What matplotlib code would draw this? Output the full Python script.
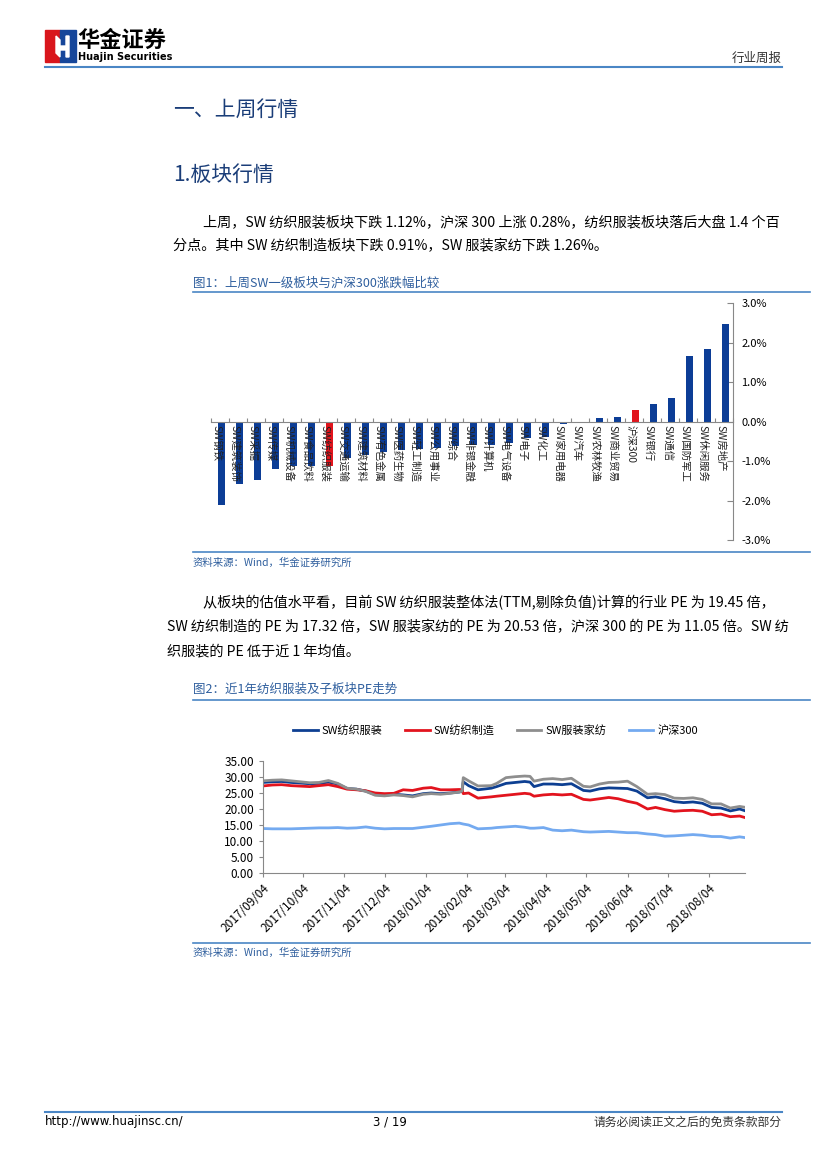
import numpy as np
import pandas as pd
import matplotlib
matplotlib.use("Agg")
import matplotlib.pyplot as plt
import matplotlib.dates as mdates
from matplotlib.patches import Rectangle, Polygon
from matplotlib.lines import Line2D

plt.rcParams['font.family'] = ['Noto Sans CJK SC', 'DejaVu Sans']
plt.rcParams['axes.unicode_minus'] = False

# ---- 图1 数据：上周SW一级板块与沪深300涨跌幅(%) ----
sectors = ['SW钢铁', 'SW建筑装饰', 'SW采掘', 'SW传媒', 'SW机械设备', 'SW食品饮料',
           'SW纺织服装', 'SW交通运输', 'SW建筑材料', 'SW有色金属', 'SW医药生物',
           'SW轻工制造', 'SW公用事业', 'SW综合', 'SW非银金融', 'SW计算机',
           'SW电气设备', 'SW电子', 'SW化工', 'SW家用电器', 'SW汽车', 'SW农林牧渔',
           'SW商业贸易', '沪深300', 'SW银行', 'SW通信', 'SW国防军工', 'SW休闲服务',
           'SW房地产']
changes = [-2.12, -1.58, -1.49, -1.19, -1.13, -1.12, -1.12, -0.93, -0.85, -0.77,
           -0.72, -0.70, -0.68, -0.62, -0.60, -0.60, -0.55, -0.42, -0.38, -0.07,
           -0.02, 0.08, 0.12, 0.28, 0.45, 0.59, 1.65, 1.84, 2.47]
highlight = ['SW纺织服装', '沪深300']
bar_ticks = [3, 2, 1, 0, -1, -2, -3]

# ---- 图2 数据：近1年纺织服装及子板块PE ----
pe_dates = ['2017-09-04', '2017-09-11', '2017-09-18', '2017-09-25', '2017-10-09',
            '2017-10-16', '2017-10-23', '2017-10-30', '2017-11-06', '2017-11-13',
            '2017-11-20', '2017-11-27', '2017-12-04', '2017-12-11', '2017-12-18',
            '2017-12-25', '2018-01-02', '2018-01-08', '2018-01-15', '2018-01-22',
            '2018-01-29', '2018-01-31', '2018-02-01', '2018-02-05', '2018-02-12',
            '2018-02-22', '2018-02-26', '2018-03-05', '2018-03-12', '2018-03-19',
            '2018-03-23', '2018-03-26', '2018-04-02', '2018-04-09', '2018-04-16',
            '2018-04-23', '2018-05-02', '2018-05-07', '2018-05-14', '2018-05-21',
            '2018-05-28', '2018-06-04', '2018-06-11', '2018-06-19', '2018-06-25',
            '2018-07-02', '2018-07-09', '2018-07-16', '2018-07-23', '2018-07-30',
            '2018-08-06', '2018-08-13', '2018-08-20', '2018-08-27', '2018-08-31']
pe_fzfz = [28.3, 28.5, 28.6, 28.3, 27.9, 28.0, 28.4, 27.8, 26.4, 26.2,
           25.6, 24.5, 24.3, 24.6, 24.4, 24.1, 24.8, 25.0, 24.8, 25.0,
           25.3, 25.5, 28.5, 27.3, 26.0, 26.5, 27.0, 28.0, 28.3, 28.6,
           28.4, 27.0, 27.8, 27.8, 27.6, 27.9, 25.8, 25.6, 26.3, 26.6,
           26.5, 26.4, 25.6, 23.5, 23.8, 23.2, 22.3, 22.0, 22.2, 21.8,
           20.5, 20.3, 19.4, 20.0, 19.45]
pe_fzzz = [27.2, 27.5, 27.6, 27.3, 27.0, 27.3, 27.6, 27.0, 26.2, 26.0,
           25.7, 25.0, 24.8, 24.9, 26.0, 25.8, 26.5, 26.7, 26.0, 26.0,
           26.1, 26.0, 24.8, 25.0, 23.4, 23.8, 24.0, 24.3, 24.6, 24.9,
           24.7, 24.0, 24.4, 24.6, 24.4, 24.6, 23.0, 22.8, 23.2, 23.6,
           23.2, 22.4, 21.8, 20.0, 20.5, 19.8, 19.3, 19.5, 19.6, 19.3,
           18.2, 18.4, 17.6, 17.8, 17.32]
pe_fzjf = [28.8, 29.0, 29.1, 28.8, 28.2, 28.3, 28.9, 28.0, 26.5, 26.2,
           25.5, 24.3, 24.1, 24.4, 24.2, 23.8, 24.6, 24.8, 24.6, 24.9,
           25.3, 25.6, 29.8, 28.8, 27.2, 27.3, 28.0, 29.8, 30.1, 30.3,
           30.2, 28.7, 29.3, 29.5, 29.2, 29.6, 27.1, 26.9, 27.8, 28.3,
           28.4, 28.7, 27.0, 24.6, 24.8, 24.5, 23.4, 23.3, 23.5, 23.0,
           21.6, 21.6, 20.3, 20.8, 20.53]
pe_hs300 = [13.9, 13.8, 13.8, 13.8, 14.0, 14.1, 14.1, 14.2, 14.0, 14.1,
            14.4, 14.0, 13.8, 13.9, 13.9, 13.9, 14.3, 14.6, 15.0, 15.4,
            15.6, 15.4, 15.3, 15.0, 13.8, 14.0, 14.2, 14.4, 14.6, 14.3,
            14.0, 14.0, 14.2, 13.4, 13.2, 13.4, 12.9, 12.8, 12.9, 13.0,
            12.8, 12.6, 12.6, 12.2, 12.0, 11.5, 11.6, 11.8, 12.0, 11.8,
            11.4, 11.4, 10.9, 11.3, 11.05]
pe_names = ['SW纺织服装', 'SW纺织制造', 'SW服装家纺', '沪深300']
pe_month_ticks = ['2017-09-04', '2017-10-04', '2017-11-04', '2017-12-04', '2018-01-04',
                  '2018-02-04', '2018-03-04', '2018-04-04', '2018-05-04', '2018-06-04',
                  '2018-07-04', '2018-08-04']

W, H = 827, 1169
BLUE_LINE = '#4a86c5'
CAP_BLUE = '#2f5f9e'


def fx(x):
    return x / W


def fy(y):
    return 1 - y / H


fig = plt.figure(figsize=(W / 100, H / 100), dpi=100)

# ---- 页眉 ----
fig.patches.append(Rectangle((fx(45), fy(62)), fx(15), 32 / H, transform=fig.transFigure,
                             color='#d9161c', zorder=2))
fig.patches.append(Rectangle((fx(60), fy(62)), fx(16), 32 / H, transform=fig.transFigure,
                             color='#16469a', zorder=2))
fig.patches.append(Polygon([(fx(56), fy(36)), (fx(60), fy(40)), (fx(60), fy(46)),
                            (fx(66), fy(46)), (fx(66), fy(36)), (fx(69), fy(36)),
                            (fx(69), fy(57)), (fx(66), fy(57)), (fx(66), fy(50)),
                            (fx(60), fy(50)), (fx(60), fy(57)), (fx(56), fy(53))],
                           closed=True, transform=fig.transFigure, color='white', zorder=3))
fig.text(fx(77), fy(40), '华金证券', fontsize=16, fontweight='bold', va='center', ha='left')
fig.text(fx(78), fy(57), 'Huajin Securities', fontsize=7, fontweight='bold',
         va='center', ha='left', family=['DejaVu Sans'])
fig.text(fx(782), fy(58), '行业周报', fontsize=9, color='#333333', va='center', ha='right')
fig.add_artist(Line2D([fx(45), fx(782)], [fy(67), fy(67)], color=BLUE_LINE, lw=1.5))

# ---- 正文 ----
fig.text(fx(173), fy(110), '一、上周行情', fontsize=15, color='#1a3d78', va='center')
fig.text(fx(173), fy(175), '1.板块行情', fontsize=15, color='#1a3d78', va='center')
body = 10.2
fig.text(fx(203), fy(222), '上周，SW 纺织服装板块下跌 1.12%，沪深 300 上涨 0.28%，纺织服装板块落后大盘 1.4 个百',
         fontsize=body, va='center')
fig.text(fx(173), fy(246), '分点。其中 SW 纺织制造板块下跌 0.91%，SW 服装家纺下跌 1.26%。',
         fontsize=body, va='center')
fig.text(fx(203), fy(603), '从板块的估值水平看，目前 SW 纺织服装整体法(TTM,剔除负值)计算的行业 PE 为 19.45 倍，',
         fontsize=body, va='center')
fig.text(fx(167), fy(627), 'SW 纺织制造的 PE 为 17.32 倍，SW 服装家纺的 PE 为 20.53 倍，沪深 300 的 PE 为 11.05 倍。SW 纺',
         fontsize=body, va='center')
fig.text(fx(167), fy(651), '织服装的 PE 低于近 1 年均值。', fontsize=body, va='center')

# ---- 图注 ----
for cap_y, cap in [(283, '图1：上周SW一级板块与沪深300涨跌幅比较'), (689, '图2：近1年纺织服装及子板块PE走势')]:
    fig.text(fx(193), fy(cap_y), cap, fontsize=9, color=CAP_BLUE, va='center')
for ly in [292, 552, 700, 943]:
    fig.add_artist(Line2D([fx(193), fx(810)], [fy(ly), fy(ly)], color=BLUE_LINE, lw=1.2))
for sy in [563, 953]:
    fig.text(fx(193), fy(sy), '资料来源：Wind，华金证券研究所', fontsize=7.5, color=CAP_BLUE,
             va='center', style='italic')

# ---- 图1 柱状图 ----
ax1 = fig.add_axes([fx(211), fy(540), (733 - 211) / W, (540 - 303) / H])
n = len(sectors)
x = np.arange(n)
colors = ['#e1141c' if s in highlight else '#0c3d96' for s in sectors]
ax1.bar(x + 0.08, changes, width=0.36, color=colors, zorder=2)
ax1.set_xlim(-0.5, n - 0.5)
ax1.set_ylim(-3, 3)
ax1.yaxis.tick_right()
ax1.set_yticks(bar_ticks)
ax1.set_yticklabels(['%.1f%%' % v for v in bar_ticks], fontsize=8)
ax1.tick_params(axis='y', direction='in', length=4, color='#888888', pad=6)
ax1.set_xticks(np.arange(-0.5, n, 1))
ax1.set_xticklabels([])
ax1.tick_params(axis='x', direction='in', length=3, color='#888888')
for s in ['top', 'left']:
    ax1.spines[s].set_visible(False)
ax1.spines['bottom'].set_position(('data', 0))
ax1.spines['bottom'].set_color('#888888')
ax1.spines['right'].set_color('#888888')
for i, s in enumerate(sectors):
    ax1.text(i - 0.2, -0.08, s, rotation=-90, ha='center', va='top', fontsize=7.5,
             color='#222222', zorder=3)

# ---- 图2 折线图 ----
ax2 = fig.add_axes([fx(263), fy(873), (745 - 263) / W, (873 - 761) / H])
d = pd.to_datetime(pe_dates)
line_colors = ['#0d3f92', '#e2141e', '#8e8e8e', '#74aaf0']
series = [pe_fzfz, pe_fzzz, pe_fzjf, pe_hs300]
for name, vals, c in zip(pe_names, series, line_colors):
    ax2.plot(d, vals, color=c, lw=2, label=name)
ax2.set_ylim(0, 35)
ax2.set_yticks(np.arange(0, 36, 5))
ax2.set_yticklabels(['%.2f' % v for v in np.arange(0, 36, 5)], fontsize=8.5)
ax2.set_xlim(pd.Timestamp('2017-09-04'), pd.Timestamp('2018-08-31'))
ax2.set_xticks(pd.to_datetime(pe_month_ticks))
ax2.xaxis.set_major_formatter(mdates.DateFormatter('%Y/%m/%d'))
plt.setp(ax2.get_xticklabels(), rotation=45, ha='right', rotation_mode='anchor', fontsize=8.5)
ax2.tick_params(axis='both', length=3, color='#888888')
for s in ['top', 'right']:
    ax2.spines[s].set_visible(False)
ax2.spines['left'].set_color('#888888')
ax2.spines['bottom'].set_color('#888888')
ax2.legend(loc='center', bbox_to_anchor=(0.483, 1.27), ncol=4, frameon=False, fontsize=8,
           handlelength=2.2, handletextpad=0.4, columnspacing=2.0)

# ---- 页脚 ----
fig.add_artist(Line2D([fx(45), fx(782)], [fy(1112), fy(1112)], color=BLUE_LINE, lw=1.5))
fig.text(fx(45), fy(1122), 'http://www.huajinsc.cn/', fontsize=8.5, va='center',
         family=['DejaVu Sans'])
fig.text(fx(390), fy(1122), '3 / 19', fontsize=8.5, va='center', ha='center',
         family=['DejaVu Sans'])
fig.text(fx(782), fy(1122), '请务必阅读正文之后的免责条款部分', fontsize=8.5, va='center', ha='right',
         color='#333333')

fig.savefig('out.png', dpi=100)
